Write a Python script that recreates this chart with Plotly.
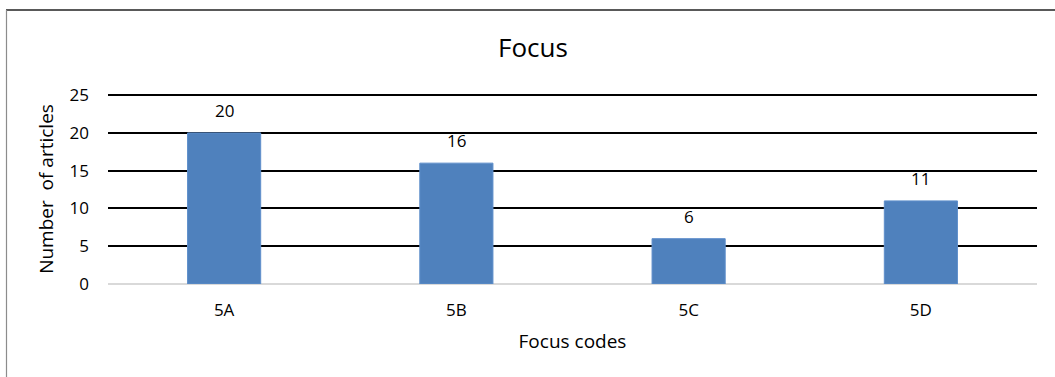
import plotly.graph_objects as go

# Focus code counts
categories = ["5A", "5B", "5C", "5D"]
articles = [20, 16, 6, 11]
y_ticks = [0, 5, 10, 15, 20, 25]

W, H = 1055, 377
ML, MR, MT, MB = 108, 18, 95, 93
PW, PH = W - ML - MR, H - MT - MB

FONT = "Open Sans"
BAR = "#4f81bd"

fig = go.Figure(
    go.Bar(
        x=categories,
        y=articles,
        marker=dict(color=BAR, line=dict(color="#5f8fcb", width=1)),
        width=0.315,
        hoverinfo="x+y",
    )
)

# value labels above each bar
for c, v in zip(categories, articles):
    fig.add_annotation(
        x=c, y=v, text=str(v), showarrow=False,
        yanchor="bottom", yshift=9,
        font=dict(family=FONT, size=17, color="#000000"),
    )

def px_x(p):
    return (p - ML) / PW

def px_y(p):
    return 1 - (p - MT) / PH

# outer frame: dark top edge and grey left edge
fig.add_shape(type="line", xref="paper", yref="paper",
              x0=px_x(6), x1=px_x(W + 2), y0=px_y(11.5), y1=px_y(11.5),
              line=dict(color="#222222", width=1.5))
fig.add_shape(type="line", xref="paper", yref="paper",
              x0=px_x(6.5), x1=px_x(6.5), y0=px_y(11.5), y1=px_y(H + 2),
              line=dict(color="#8c8c8c", width=1.2))

fig.update_layout(
    width=W, height=H,
    margin=dict(l=ML, r=MR, t=MT - 1, b=MB, pad=0),
    paper_bgcolor="white", plot_bgcolor="white",
    showlegend=False,
    font=dict(family=FONT, size=17, color="#000000"),
    title=dict(text="Focus", x=533 / W, xanchor="center",
               y=1 - 48 / H, yanchor="middle",
               font=dict(family=FONT, size=26, color="#000000")),
    bargap=0.685,
)

fig.update_xaxes(
    showgrid=False, showline=False, zeroline=False,
    ticks="", ticklabelstandoff=14,
    tickfont=dict(family=FONT, size=17),
    title=dict(text="Focus codes", standoff=14,
               font=dict(family=FONT, size=19)),
)
# top of range nudged slightly past 25 so its gridline is drawn
fig.update_yaxes(
    range=[0, 25.15], tickvals=y_ticks, ticktext=[str(t) for t in y_ticks],
    showgrid=True, gridcolor="#000000", gridwidth=1.7,
    zeroline=True, zerolinecolor="#d9d9d9", zerolinewidth=2,
    showline=False, ticks="", ticklabelstandoff=18,
    tickfont=dict(family=FONT, size=17),
    title=dict(text="Number  of articles", standoff=10,
               font=dict(family=FONT, size=19)),
)

fig.write_html("out.html")
